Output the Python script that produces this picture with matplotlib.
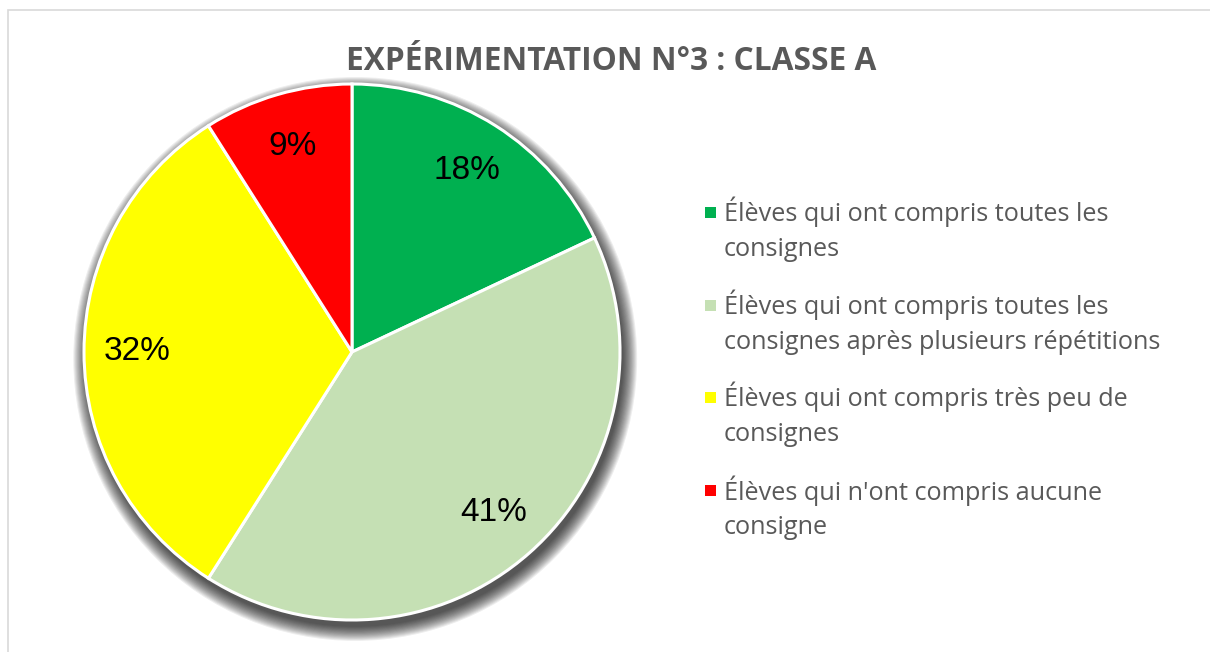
import matplotlib.pyplot as plt
from matplotlib.patches import Circle, Rectangle

# data
labels = ["Élèves qui ont compris toutes les\nconsignes",
          "Élèves qui ont compris toutes les\nconsignes après plusieurs répétitions",
          "Élèves qui ont compris très peu de\nconsignes",
          "Élèves qui n'ont compris aucune\nconsigne"]
values = [18, 41, 32, 9]
colors = ['#00b050', '#c5e0b4', '#ffff00', '#ff0000']
title = "EXPÉRIMENTATION N°3 : CLASSE A"

W, H = 1210, 652
fig = plt.figure(figsize=(W / 100, H / 100), dpi=100)

# chart frame
fig.patches.append(Rectangle((8 / W, -0.05), 1.0, (H - 10) / H + 0.05,
                             transform=fig.transFigure, fill=False,
                             edgecolor='#d9d9d9', linewidth=1.2))

# pie axes: centre (352, 352) px, radius 268 px
r = 268
lim = 1.15
cx, cy = 352, H - 352
ax = fig.add_axes([(cx - lim * r) / W, (cy - lim * r) / H, 2 * lim * r / W, 2 * lim * r / H])

# soft shadow
for k in range(14):
    ax.add_patch(Circle((0.012, -0.026), 1.0 + k * 0.004, color='black',
                        alpha=0.07, linewidth=0, zorder=0))

wedges, texts, autotexts = ax.pie(values, colors=colors, startangle=90, counterclock=False,
                                  autopct='%1.0f%%', pctdistance=0.8, radius=1.0,
                                  wedgeprops=dict(edgecolor='white', linewidth=2.2),
                                  textprops=dict(fontsize=24, family='Liberation Sans', color='black'))
for w in wedges:
    w.set_zorder(2)
for t in autotexts:
    t.set_zorder(3)
ax.set_xlim(-lim, lim)
ax.set_ylim(-lim, lim)
ax.set_aspect('equal')
ax.axis('off')

fig.text(611 / W, 1 - 61 / H, title, ha='center', va='center', fontsize=22.8,
         fontweight='bold', family='Open Sans', color='#595959')

# legend
ys = [212, 305, 397, 490]
for y, lab, c in zip(ys, labels, colors):
    fig.patches.append(Rectangle((705 / W, 1 - (y + 5.5) / H), 11 / W, 11 / H,
                                 transform=fig.transFigure, facecolor=c, edgecolor='none'))
    fig.text(724 / W, 1 - (y - 15) / H, lab, ha='left', va='top', fontsize=18.2,
             family='Open Sans', color='#595959', linespacing=1.52)

fig.savefig('out.png', dpi=100)
